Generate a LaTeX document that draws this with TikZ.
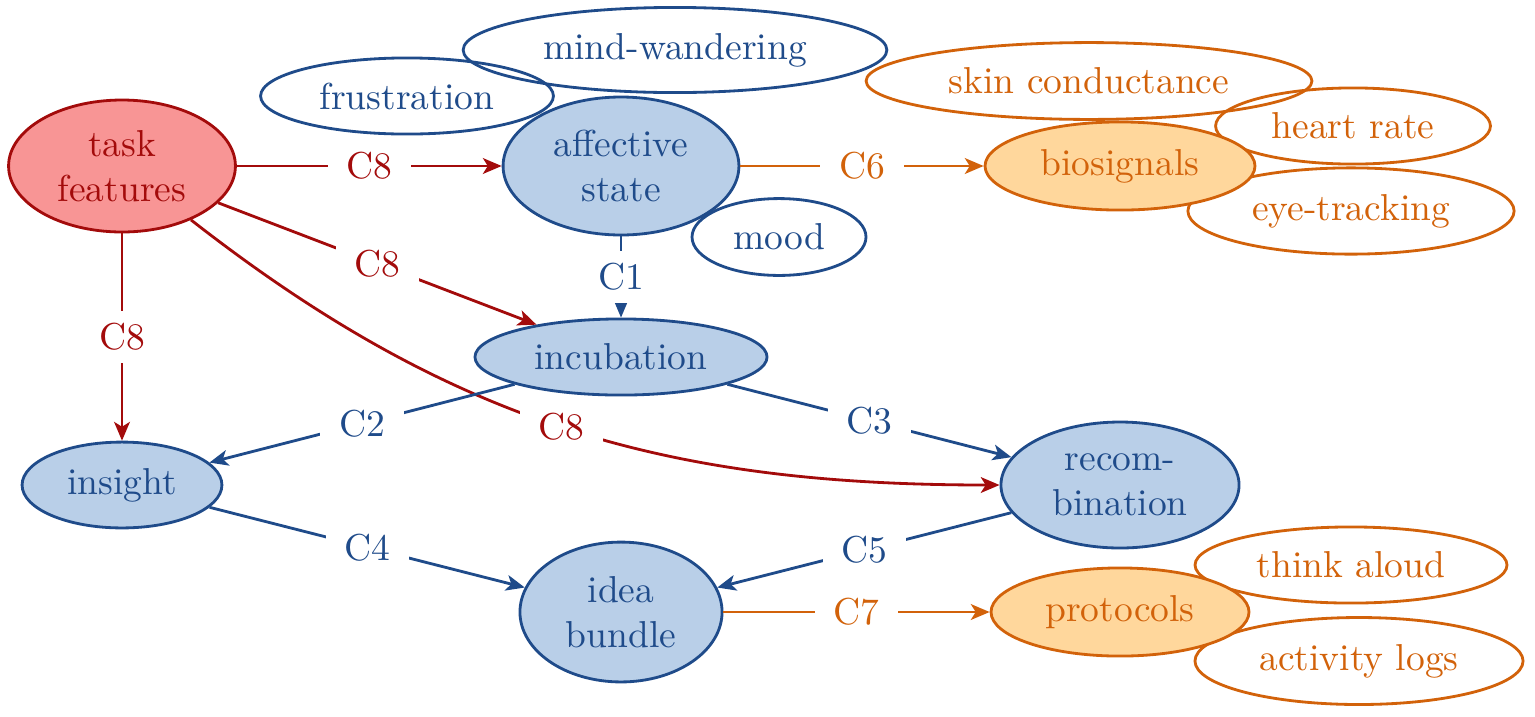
\documentclass[tikz,border=0pt]{standalone}
\usetikzlibrary{arrows.meta,shapes.geometric}
\definecolor{bS}{HTML}{1F4B8A}
\definecolor{bF}{HTML}{B9CFE8}
\definecolor{rS}{HTML}{A30B0B}
\definecolor{rF}{HTML}{F89595}
\definecolor{oS}{HTML}{D2620A}
\definecolor{oF}{HTML}{FFD79C}
\begin{document}
\begin{tikzpicture}[x=0.2667pt,y=-0.2667pt,
  nd/.style={ellipse, inner sep=0pt, line width=0.75pt, align=center},
  bluenode/.style={nd, draw=bS, fill=bF, text=bS},
  bluesat/.style={nd, draw=bS, text=bS},
  rednode/.style={nd, draw=rS, fill=rF, text=rS},
  orangenode/.style={nd, draw=oS, fill=oF, text=oS},
  orangesat/.style={nd, draw=oS, text=oS},
  edge/.style={line width=0.75pt, -{Stealth[length=5pt,width=4.2pt,inset=1.3pt]}},
  lab/.style={fill=white, inner xsep=5pt, inner ysep=3.3pt},
]
\useasboundingbox (0,0) rectangle (1535,716);
% satellites
\node[bluesat, minimum width=78.1pt, minimum height=20.3pt] (frus) at (407,96) {frustration};
\node[bluesat, minimum width=113pt, minimum height=22.7pt] (mind) at (675,50) {mind-wandering};
\node[bluesat, minimum width=46.4pt, minimum height=20.5pt] (mood) at (779,237) {mood};
\node[orangesat, minimum width=118.9pt, minimum height=20.5pt] (skin) at (1089,81) {skin conductance};
\node[orangesat, minimum width=73.3pt, minimum height=20.3pt] (heart) at (1353,126) {heart rate};
\node[orangesat, minimum width=87pt, minimum height=23pt] (eye) at (1351,211) {eye-tracking};
\node[orangesat, minimum width=83.2pt, minimum height=20.3pt] (think) at (1351,565) {think aloud};
\node[orangesat, minimum width=87.5pt, minimum height=23.2pt] (logs) at (1359,661) {activity logs};
% main nodes
\node[rednode, minimum width=60.5pt, minimum height=35.2pt] (task) at (122,166) {task\\features};
\node[bluenode, minimum width=62.9pt, minimum height=36.8pt] (aff) at (621,166) {affective\\state};
\node[orangenode, minimum width=72pt, minimum height=23.5pt] (bio) at (1120,166) {biosignals};
\node[bluenode, minimum width=77.9pt, minimum height=20.3pt] (inc) at (621,357) {incubation};
\node[bluenode, minimum width=53.3pt, minimum height=22.9pt] (ins) at (122,485) {insight};
\node[bluenode, minimum width=63.5pt, minimum height=33.6pt] (rec) at (1120,485) {recom-\\bination};
\node[bluenode, minimum width=53.9pt, minimum height=37.3pt] (idea) at (621,612) {idea\\bundle};
\node[orangenode, minimum width=68.8pt, minimum height=23.5pt] (prot) at (1120,612) {protocols};
% edges
\draw[edge, rS] (task) -- node[lab, text=rS] {C8} (aff);
\draw[edge, rS] (task) -- node[lab, text=rS] {C8} (inc);
\draw[edge, rS] (task) -- node[lab, text=rS] {C8} (ins);
\draw[edge, rS] (task) to[out=-38, in=180] node[lab, text=rS, pos=0.49] {C8} (rec);
\draw[edge, bS] (aff) -- node[lab, text=bS] {C1} (inc);
\draw[edge, oS] (aff) -- node[lab, text=oS] {C6} (bio);
\draw[edge, bS] (inc) -- node[lab, text=bS] {C2} (ins);
\draw[edge, bS] (inc) -- node[lab, text=bS] {C3} (rec);
\draw[edge, bS] (ins) -- node[lab, text=bS] {C4} (idea);
\draw[edge, bS] (rec) -- node[lab, text=bS] {C5} (idea);
\draw[edge, oS] (idea) -- node[lab, text=oS] {C7} (prot);
\end{tikzpicture}
\end{document}
